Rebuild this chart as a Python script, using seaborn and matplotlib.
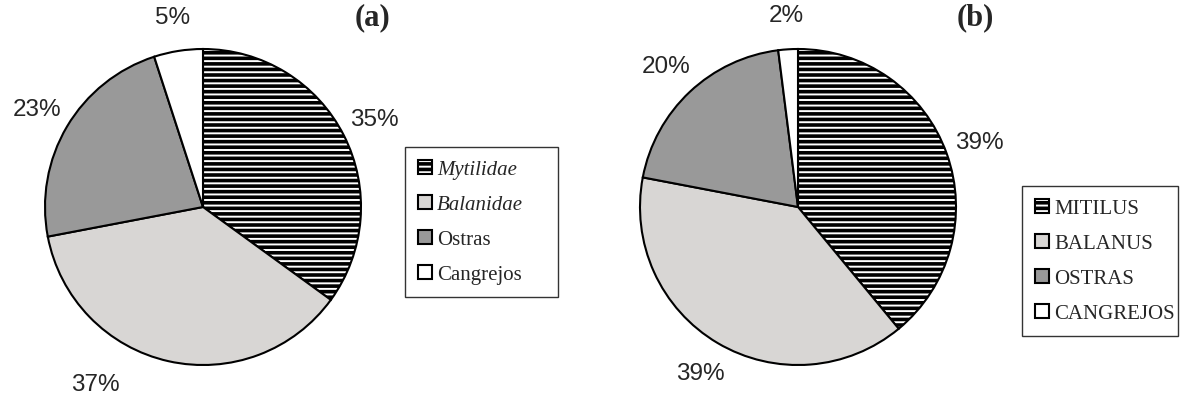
import matplotlib
matplotlib.use("Agg")
import matplotlib.pyplot as plt
import seaborn as sns

sns.set_style("white")
plt.rcParams['hatch.linewidth'] = 2.6
plt.rcParams['hatch.color'] = 'black'

# --- data ---
labels_a = ["Mytilidae", "Balanidae", "Ostras", "Cangrejos"]
values_a = [35, 37, 23, 5]
labels_b = ["MITILUS", "BALANUS", "OSTRAS", "CANGREJOS"]
values_b = [39, 39, 20, 2]

colors = ["white", "#d8d6d4", "#999999", "white"]
hatches = ["---", None, None, None]

W, H = 1181, 402
fig = plt.figure(figsize=(W / 100, H / 100), dpi=100)


def draw_pie(cx, cy, r, values, labels, italic, leg_box, title, title_x):
    ax = fig.add_axes([(cx - r) / W, (H - cy - r) / H, 2 * r / W, 2 * r / H])
    wedges, texts, autotexts = ax.pie(
        values, colors=colors, startangle=90, counterclock=False,
        autopct=lambda p: f"{p:.0f}%", pctdistance=1.22,
        wedgeprops=dict(edgecolor="black", linewidth=1.5),
        textprops=dict(fontsize=17.5, family="Liberation Sans"),
    )
    for w, h in zip(wedges, hatches):
        if h:
            w.set_hatch(h)
    for t in autotexts:
        t.set_clip_on(False)
    ax.set_xlim(-1, 1)
    ax.set_ylim(-1, 1)
    ax.axis("off")

    x0, y0, x1, y1 = leg_box
    leg = fig.legend(
        wedges, labels, loc="upper left",
        bbox_to_anchor=(x0 / W, 1 - y1 / H, (x1 - x0) / W, (y1 - y0) / H),
        bbox_transform=fig.transFigure, mode="expand",
        prop=dict(family="Liberation Serif", size=15,
                  style="italic" if italic else "normal"),
        frameon=True, fancybox=False, edgecolor="black",
        handlelength=0.7, handleheight=0.7, handletextpad=0.25,
        labelspacing=0.74, borderpad=0.6, borderaxespad=0,
    )
    leg.get_frame().set_linewidth(1.0)
    if italic:
        # only the family names are italic
        for t, lab in zip(leg.get_texts(), labels):
            if lab in ("Ostras", "Cangrejos"):
                t.set_fontstyle("normal")
    fig.text(title_x / W, 1 - 18 / H, title, family="Liberation Serif",
             fontsize=22, fontweight="bold", ha="center", va="center")
    return autotexts


at = draw_pie(203, 208, 158, values_a, labels_a, True,
              (405, 148, 558, 292), "(a)", 372)
# the 37% label sits further round in the original
at[1].set_position((-0.68, -1.12))
draw_pie(798, 208, 158, values_b, labels_b, False,
         (1022, 187, 1178, 330), "(b)", 975)

fig.savefig("out.png", dpi=100)
